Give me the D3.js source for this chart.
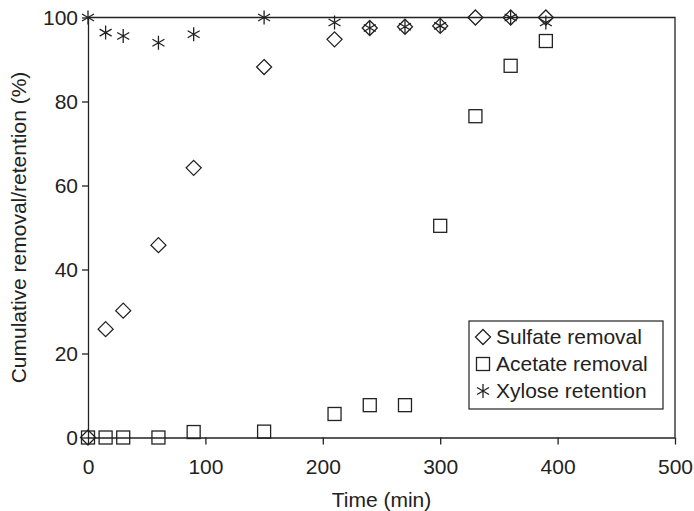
<!DOCTYPE html>
<html>
<head>
<meta charset="utf-8">
<script src="https://cdn.jsdelivr.net/npm/d3@7"></script>
<style>
body { margin: 0; background: #fff; }
text { font-family: "Liberation Sans", Arial, sans-serif; fill: #222; }
</style>
</head>
<body>
<div id="chart"></div>
<script>
var times = [0, 15, 30, 60, 90, 150, 210, 240, 270, 300, 330, 360, 390];
var sulfate = [0, 25.8, 30.2, 45.8, 64.2, 88.2, 94.8, 97.5, 97.8, 98, 100, 100, 100];
var acetate = [0, 0, 0, 0, 1.3, 1.4, 5.6, 7.7, 7.7, 50.4, 76.5, 88.5, 94.4];
// no xylose reading at 330 min
var xylose = [100, 96.4, 95.6, 94, 96, 100, 98.8, 97.5, 97.8, 98, null, 100, 98.8];
var xTicks = [0, 100, 200, 300, 400, 500];
var yTicks = [0, 20, 40, 60, 80, 100];
var seriesNames = ["Sulfate removal", "Acetate removal", "Xylose retention"];

var margin = {top: 17.5, right: 19, bottom: 73.5, left: 88},
    width = 694 - margin.left - margin.right,
    height = 511 - margin.top - margin.bottom;

var svg = d3.select("#chart")
  .append("svg")
    .attr("width", 694)
    .attr("height", 511)
  .append("g")
    .attr("transform", "translate(" + margin.left + "," + margin.top + ")");

var x = d3.scaleLinear().domain([0, 500]).range([0, width]);
var y = d3.scaleLinear().domain([0, 100]).range([height, 0]);

// frame top/right
svg.append("path")
  .attr("d", "M0,0H" + width + "V" + height)
  .attr("fill", "none")
  .attr("stroke", "#222")
  .attr("stroke-width", 1.3);

var xAxis = svg.append("g")
  .attr("transform", "translate(0," + height + ")")
  .call(d3.axisBottom(x).tickValues(xTicks).tickSize(7).tickPadding(15).tickSizeOuter(0));
var yAxis = svg.append("g")
  .call(d3.axisLeft(y).tickValues(yTicks).tickSize(6).tickPadding(4).tickSizeOuter(0));

[xAxis, yAxis].forEach(function(a) {
  a.select(".domain").attr("stroke", "#222").attr("stroke-width", 1.3);
  a.selectAll(".tick line").attr("stroke", "#222").attr("stroke-width", 1.3);
  a.selectAll(".tick text").attr("font-size", "21px").attr("fill", "#222")
    .style("font-family", "'Liberation Sans', Arial, sans-serif");
});

// labels
svg.append("text")
  .attr("x", width / 2)
  .attr("y", height + 69)
  .attr("font-size", "21px")
  .attr("text-anchor", "middle")
  .text("Time (min)");

svg.append("text")
  .attr("transform", "rotate(-90)")
  .attr("x", -210)
  .attr("y", -62)
  .attr("font-size", "21px")
  .attr("text-anchor", "middle")
  .text("Cumulative removal/retention (%)");

function diamond(g) {
  g.append("path").attr("d", "M0,-7.5L7.5,0L0,7.5L-7.5,0Z")
    .attr("fill", "none").attr("stroke", "#222").attr("stroke-width", 1.3);
}
function square(g) {
  g.append("rect").attr("x", -6.5).attr("y", -6.5).attr("width", 13).attr("height", 13)
    .attr("fill", "none").attr("stroke", "#222").attr("stroke-width", 1.3);
}
function star(g) {
  g.append("path").attr("d", "M0,-7V7M-6,-3.5L6,3.5M-6,3.5L6,-3.5")
    .attr("fill", "none").attr("stroke", "#222").attr("stroke-width", 1.3);
}
var shapes = [diamond, square, star];
var allSeries = [sulfate, acetate, xylose];

allSeries.forEach(function(vals, s) {
  var pts = times.map(function(t, i) { return {t: t, v: vals[i]}; })
    .filter(function(d) { return d.v !== null; });
  svg.append("g").selectAll("g")
    .data(pts)
    .enter().append("g")
      .attr("transform", function(d) { return "translate(" + x(d.t) + "," + y(d.v) + ")"; })
      .each(function() { shapes[s](d3.select(this)); });
});

// legend
var lx = 469 - margin.left, ly = 321 - margin.top;
svg.append("rect")
  .attr("x", lx).attr("y", ly)
  .attr("width", 194).attr("height", 88)
  .attr("fill", "#fff").attr("stroke", "#222").attr("stroke-width", 1.2);

var legend = svg.selectAll(".legend")
  .data(seriesNames)
  .enter().append("g")
    .attr("class", "legend")
    .attr("transform", function(d, i) { return "translate(" + (lx + 14) + "," + (ly + 16 + i * 27) + ")"; });

legend.each(function(d, i) { shapes[i](d3.select(this)); });
legend.append("text")
  .attr("x", 13)
  .attr("y", 0)
  .attr("dy", "0.35em")
  .attr("font-size", "21px")
  .text(function(d) { return d; });
</script>
</body>
</html>
